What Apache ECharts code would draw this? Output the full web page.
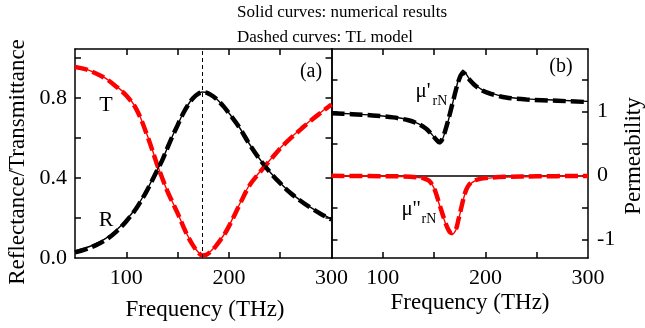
<!DOCTYPE html>
<html>
<head>
<meta charset="utf-8">
<script src="https://cdn.jsdelivr.net/npm/echarts@6/dist/echarts.min.js"></script>
<style>
  html, body { margin: 0; padding: 0; background: #ffffff; }
  #chart { width: 645px; height: 328px; }
</style>
</head>
<body>
<div id="chart"></div>
<script>
// ---- Panel (a): reflectance / transmittance vs frequency (THz) ----
const freqA = [50, 60, 70, 80, 90, 100, 110, 120, 130, 135, 140, 145, 150, 155, 160, 165, 170, 174,
               178, 182, 187, 190, 195, 200, 210, 220, 230, 240, 250, 260, 270, 280, 290, 300];
const transNum = [0.955, 0.945, 0.925, 0.898, 0.86, 0.815, 0.745, 0.62, 0.47, 0.40, 0.335, 0.28, 0.225, 0.165, 0.11, 0.065, 0.03, 0.015,
                  0.018, 0.033, 0.06, 0.08, 0.115, 0.16, 0.265, 0.365, 0.43, 0.49, 0.55, 0.60, 0.645, 0.69, 0.73, 0.77];
const transTL  = [0.955, 0.944, 0.924, 0.897, 0.858, 0.812, 0.742, 0.618, 0.468, 0.40, 0.334, 0.279, 0.224, 0.164, 0.108, 0.063, 0.028, 0.013,
                  0.016, 0.031, 0.058, 0.078, 0.113, 0.158, 0.262, 0.362, 0.428, 0.488, 0.548, 0.598, 0.643, 0.688, 0.728, 0.768];
const reflNum  = [0.035, 0.05, 0.07, 0.098, 0.138, 0.19, 0.255, 0.34, 0.44, 0.49, 0.55, 0.61, 0.665, 0.72, 0.765, 0.80, 0.822, 0.83,
                  0.828, 0.818, 0.80, 0.785, 0.758, 0.725, 0.655, 0.57, 0.495, 0.43, 0.375, 0.327, 0.287, 0.252, 0.222, 0.196];
const reflTL   = [0.028, 0.043, 0.063, 0.091, 0.131, 0.184, 0.25, 0.336, 0.437, 0.488, 0.549, 0.609, 0.664, 0.719, 0.764, 0.799, 0.821, 0.829,
                  0.827, 0.817, 0.799, 0.784, 0.757, 0.724, 0.654, 0.569, 0.494, 0.429, 0.374, 0.325, 0.285, 0.25, 0.219, 0.192];
const resonanceFreq = 174;

// ---- Panel (b): normalized relative permeability ----
const freqMuRe = [50, 70, 90, 110, 125, 135, 142, 148, 152, 155, 158, 161, 164, 167, 170, 173, 176, 178,
                  180, 184, 190, 197, 205, 220, 240, 270, 300];
const muReNum  = [0.98, 0.965, 0.945, 0.915, 0.87, 0.81, 0.74, 0.64, 0.56, 0.50, 0.56, 0.70, 0.87, 1.06, 1.26, 1.46, 1.60, 1.65,
                  1.62, 1.52, 1.42, 1.34, 1.29, 1.23, 1.20, 1.18, 1.16];
const muReTL   = [0.975, 0.96, 0.94, 0.91, 0.865, 0.805, 0.735, 0.64, 0.565, 0.52, 0.57, 0.71, 0.88, 1.07, 1.26, 1.44, 1.57, 1.60,
                  1.59, 1.51, 1.41, 1.33, 1.28, 1.22, 1.19, 1.17, 1.15];
const freqMuIm = [50, 100, 120, 135, 140, 145, 150, 155, 160, 164, 167, 171, 174, 177, 180, 183, 187, 192, 200, 220, 250, 300];
const muImNum  = [-0.005, -0.01, -0.015, -0.03, -0.045, -0.08, -0.2, -0.45, -0.7, -0.86, -0.92, -0.86, -0.68, -0.48, -0.29, -0.18,
                  -0.11, -0.07, -0.045, -0.025, -0.015, -0.008];
const muImTL   = [-0.005, -0.01, -0.015, -0.03, -0.045, -0.08, -0.2, -0.44, -0.69, -0.85, -0.9, -0.85, -0.67, -0.47, -0.28, -0.17,
                  -0.1, -0.065, -0.04, -0.02, -0.012, -0.006];

// ---- Tick positions and labels ----
const freqTicks = [100, 150, 200, 250];
const freqLabels = [100, 200, 300];
const rtTicks = [0.2, 0.4, 0.6, 0.8, 1.0];
const rtLabels = [0, 0.4, 0.8];
const muTicks = [-1, -0.5, 0, 0.5, 1, 1.5];
const muLabels = [-1, 0, 1];

const FONT = '"Liberation Serif", "Times New Roman", serif';
const RED = '#ff0000';
const BLACK = '#000000';

const pairs = (xs, ys) => xs.map((x, i) => [x, ys[i]]);

// Inward ticks on every side of both frames
function ticks(values) {
  return { show: true, inside: true, length: 6, customValues: values, lineStyle: { color: BLACK, width: 1.5 } };
}

function axisBase(extra) {
  return Object.assign({
    type: 'value',
    axisLine: { show: true, onZero: false, lineStyle: { color: BLACK, width: 1.5 } },
    splitLine: { show: false },
    axisLabel: { show: false }
  }, extra);
}

function xAxisFor(gridIndex, position, withLabels) {
  return axisBase({
    gridIndex, position, min: 50, max: 300,
    axisTick: ticks(freqTicks),
    axisLabel: withLabels ? {
      show: true, customValues: freqLabels, margin: 9,
      fontFamily: FONT, fontSize: 22, color: BLACK
    } : { show: false }
  });
}

const chart = echarts.init(document.getElementById('chart'), null, { renderer: 'canvas' });

const option = {
  animation: false,
  backgroundColor: '#ffffff',
  grid: [
    { left: 75, right: 313.5, top: 49, bottom: 70 },
    { left: 331.5, right: 57, top: 49, bottom: 70 }
  ],
  xAxis: [
    xAxisFor(0, 'bottom', true),
    xAxisFor(0, 'top', false),
    xAxisFor(1, 'bottom', true),
    xAxisFor(1, 'top', false)
  ],
  yAxis: [
    axisBase({
      gridIndex: 0, position: 'left', min: 0, max: 1.045,
      axisTick: ticks(rtTicks),
      axisLabel: {
        show: true, customValues: rtLabels, margin: 8,
        fontFamily: FONT, fontSize: 22, color: BLACK,
        formatter: v => Number(v).toFixed(1)
      }
    }),
    axisBase({ gridIndex: 0, position: 'right', min: 0, max: 1.045, axisTick: ticks(rtTicks) }),
    axisBase({
      gridIndex: 1, position: 'right', min: -1.29, max: 1.98,
      axisTick: ticks(muTicks),
      axisLabel: {
        show: true, customValues: muLabels, margin: 9,
        fontFamily: FONT, fontSize: 22, color: BLACK,
        formatter: v => String(Math.round(v))
      }
    }),
    axisBase({ gridIndex: 1, position: 'left', min: -1.29, max: 1.98, axisTick: ticks(muTicks) })
  ],
  series: [
    // Panel (a): TL model (dashed)
    {
      type: 'line', xAxisIndex: 0, yAxisIndex: 0, data: pairs(freqA, transTL),
      showSymbol: false, smooth: 0.35, z: 2,
      lineStyle: { color: RED, width: 4.5, type: [13, 5] }
    },
    {
      type: 'line', xAxisIndex: 0, yAxisIndex: 0, data: pairs(freqA, reflTL),
      showSymbol: false, smooth: 0.35, z: 2,
      lineStyle: { color: BLACK, width: 4.5, type: [13, 5] }
    },
    // Panel (a): numerical (solid)
    {
      type: 'line', xAxisIndex: 0, yAxisIndex: 0, data: pairs(freqA, transNum),
      showSymbol: false, smooth: 0.35, z: 3,
      lineStyle: { color: RED, width: 1.4 }
    },
    {
      type: 'line', xAxisIndex: 0, yAxisIndex: 0, data: pairs(freqA, reflNum),
      showSymbol: false, smooth: 0.35, z: 3,
      lineStyle: { color: BLACK, width: 1.4 },
      markLine: {
        silent: true, symbol: 'none', label: { show: false }, animation: false,
        lineStyle: { color: BLACK, width: 1, type: [4, 3] },
        data: [{ xAxis: resonanceFreq }]
      }
    },
    // Panel (b): zero reference line and TL model (dashed)
    {
      type: 'line', xAxisIndex: 2, yAxisIndex: 2, data: pairs(freqMuIm, muImTL),
      showSymbol: false, smooth: 0.35, z: 2,
      lineStyle: { color: RED, width: 4.5, type: [13, 5] },
      markLine: {
        silent: true, symbol: 'none', label: { show: false }, animation: false, z: 1,
        lineStyle: { color: BLACK, width: 1.5, type: 'solid' },
        data: [{ yAxis: 0 }]
      }
    },
    {
      type: 'line', xAxisIndex: 2, yAxisIndex: 2, data: pairs(freqMuRe, muReTL),
      showSymbol: false, smooth: 0.3, z: 2,
      lineStyle: { color: BLACK, width: 4.5, type: [13, 5] }
    },
    // Panel (b): numerical (solid)
    {
      type: 'line', xAxisIndex: 2, yAxisIndex: 2, data: pairs(freqMuIm, muImNum),
      showSymbol: false, smooth: 0.35, z: 3,
      lineStyle: { color: RED, width: 1.4 }
    },
    {
      type: 'line', xAxisIndex: 2, yAxisIndex: 2, data: pairs(freqMuRe, muReNum),
      showSymbol: false, smooth: 0.3, z: 3,
      lineStyle: { color: BLACK, width: 1.4 }
    }
  ],
  graphic: [
    { type: 'text', x: 237, y: 13, style: { text: 'Solid curves: numerical results', font: '17px ' + FONT, fill: BLACK, align: 'left', textAlign: 'left', verticalAlign: 'middle', textVerticalAlign: 'middle' } },
    { type: 'text', x: 237, y: 38, style: { text: 'Dashed curves: TL model', font: '17px ' + FONT, fill: BLACK, align: 'left', textAlign: 'left', verticalAlign: 'middle', textVerticalAlign: 'middle' } },
    { type: 'text', x: 18, y: 162, rotation: Math.PI / 2, style: { text: 'Reflectance/Transmittance', font: '23px ' + FONT, fill: BLACK, align: 'center', textAlign: 'center', verticalAlign: 'middle', textVerticalAlign: 'middle' } },
    { type: 'text', x: 634, y: 156, rotation: Math.PI / 2, style: { text: 'Permeability', font: '23px ' + FONT, fill: BLACK, align: 'center', textAlign: 'center', verticalAlign: 'middle', textVerticalAlign: 'middle' } },
    { type: 'text', x: 205, y: 310, style: { text: 'Frequency (THz)', font: '23px ' + FONT, fill: BLACK, align: 'center', textAlign: 'center', verticalAlign: 'middle', textVerticalAlign: 'middle' } },
    { type: 'text', x: 470, y: 303, style: { text: 'Frequency (THz)', font: '23px ' + FONT, fill: BLACK, align: 'center', textAlign: 'center', verticalAlign: 'middle', textVerticalAlign: 'middle' } },
    { type: 'text', x: 106, y: 105, style: { text: 'T', font: '22px ' + FONT, fill: BLACK, align: 'center', textAlign: 'center', verticalAlign: 'middle', textVerticalAlign: 'middle' } },
    { type: 'text', x: 106, y: 220, style: { text: 'R', font: '22px ' + FONT, fill: BLACK, align: 'center', textAlign: 'center', verticalAlign: 'middle', textVerticalAlign: 'middle' } },
    { type: 'text', x: 311, y: 72, style: { text: '(a)', font: '20px ' + FONT, fill: BLACK, align: 'center', textAlign: 'center', verticalAlign: 'middle', textVerticalAlign: 'middle' } },
    { type: 'text', x: 561, y: 67, style: { text: '(b)', font: '20px ' + FONT, fill: BLACK, align: 'center', textAlign: 'center', verticalAlign: 'middle', textVerticalAlign: 'middle' } },
    { type: 'text', x: 423, y: 91, style: { text: "\u03bc'", font: '21px ' + FONT, fill: BLACK, align: 'center', textAlign: 'center', verticalAlign: 'middle', textVerticalAlign: 'middle' } },
    { type: 'text', x: 440, y: 101, style: { text: 'rN', font: '14px ' + FONT, fill: BLACK, align: 'center', textAlign: 'center', verticalAlign: 'middle', textVerticalAlign: 'middle' } },
    { type: 'text', x: 411, y: 209, style: { text: "\u03bc''", font: '21px ' + FONT, fill: BLACK, align: 'center', textAlign: 'center', verticalAlign: 'middle', textVerticalAlign: 'middle' } },
    { type: 'text', x: 429, y: 219, style: { text: 'rN', font: '14px ' + FONT, fill: BLACK, align: 'center', textAlign: 'center', verticalAlign: 'middle', textVerticalAlign: 'middle' } }
  ]
};

chart.setOption(option);
</script>
</body>
</html>
